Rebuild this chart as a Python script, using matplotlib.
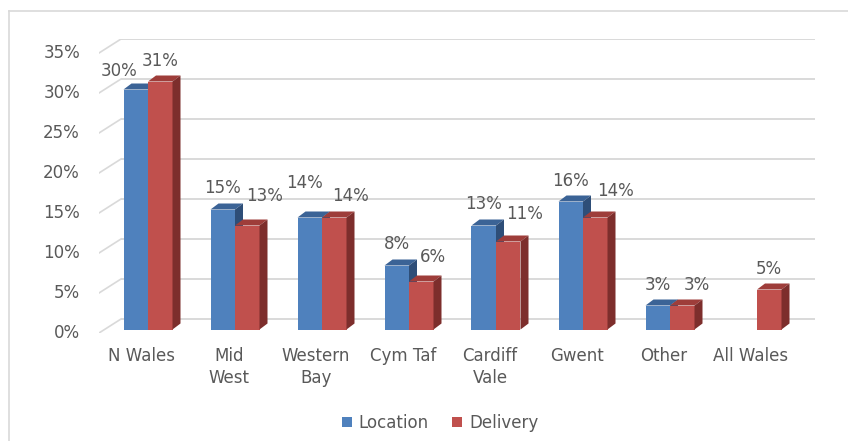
import numpy as np
import matplotlib
matplotlib.use("Agg")
import matplotlib.pyplot as plt
from matplotlib.patches import Polygon, Patch
from matplotlib.lines import Line2D

plt.rcParams["font.family"] = ["DejaVu Sans"]

# ---------------- data ----------------
categories = ["N Wales", "Mid\nWest", "Western\nBay", "Cym Taf", "Cardiff\nVale", "Gwent", "Other", "All Wales"]
location = [30, 15, 14, 8, 13, 16, 3, np.nan]
delivery = [31, 13, 14, 6, 11, 14, 3, 5]
yticks = [0, 5, 10, 15, 20, 25, 30, 35]
series_names = ["Location", "Delivery"]

# ---------------- style ----------------
W, H, DPI = 848, 441, 100
TXT = "#595959"
GRID = "#D9D9D9"
FS = 12
BLUE = ("#4F81BD", "#3B6396", "#2E4E78")   # front, top, side
RED = ("#C0504D", "#9E3D3A", "#7D2E2C")
# label offsets (pixels) relative to bar front-top centre
loc_lbl_dx = [-17, 0, -5, 0, 0, 0, 0, 0]
loc_lbl_dy = [18, 21, 35, 21, 21, 20, 21, 21]
del_lbl_dx = [0, 17, 16, 12, 16, 20, 15, 0]
del_lbl_dy = [20, 29, 21, 25, 27, 26, 21, 21]

fig = plt.figure(figsize=(W / DPI, H / DPI), dpi=DPI)
fig.patch.set_facecolor("white")

# axes placement in pixels (from top-left)
ax_l, ax_r, ax_t, ax_b = 99, 815, 39, 333
ax = fig.add_axes([ax_l / W, 1 - ax_b / H, (ax_r - ax_l) / W, (ax_b - ax_t) / H])
PX_PER_UNIT_Y = 8.0
PX_PER_CAT = 87.0
base_px = 329.5
ymin = -(ax_b - base_px) / PX_PER_UNIT_Y
ymax = ymin + (ax_b - ax_t) / PX_PER_UNIT_Y
xmin = -(148 - ax_l) / PX_PER_CAT
xmax = xmin + (ax_r - ax_l) / PX_PER_CAT
ax.set_xlim(xmin, xmax)
ax.set_ylim(ymin, ymax)
ax.axis("off")

def dxp(p):
    return p / PX_PER_CAT

def dyp(p):
    return p / PX_PER_UNIT_Y

# back-wall gridlines with left-wall slants
back_dy = dyp(base_px - 319)
wall_dx = dxp(22)
front_dy = dyp(base_px - 333)
for v in yticks:
    ax.plot([xmin + wall_dx, xmax], [v + back_dy, v + back_dy], color=GRID, lw=1.4, zorder=1,
            solid_capstyle="butt")
    ax.plot([xmin, xmin + wall_dx], [v + front_dy, v + back_dy], color=GRID, lw=1.2, zorder=1)
    ax.annotate(f"{v}%", xy=(0, v), xycoords=("axes fraction", "data"),
                xytext=(-19, -4), textcoords="offset pixels", ha="right", va="center",
                fontsize=FS, color=TXT)

x = np.arange(len(categories))
bw = dxp(24.5)
ddx, ddy = dxp(8), dyp(6)

def bar3d(xc, h, cols):
    if np.isnan(h):
        return
    ax.bar(xc, h, width=bw, color=cols[0], edgecolor="none", zorder=3)
    xl, xr = xc - bw / 2, xc + bw / 2
    ax.add_patch(Polygon([(xl, h), (xr, h), (xr + ddx, h + ddy), (xl + ddx, h + ddy)],
                         closed=True, facecolor=cols[1], edgecolor="none", zorder=3))
    ax.add_patch(Polygon([(xr, 0), (xr + ddx, ddy), (xr + ddx, h + ddy), (xr, h)],
                         closed=True, facecolor=cols[2], edgecolor="none", zorder=3))

for i in range(len(categories)):
    bar3d(x[i] - bw / 2, location[i], BLUE)
    bar3d(x[i] + bw / 2, delivery[i], RED)

for i in range(len(categories)):
    if not np.isnan(location[i]):
        ax.annotate(f"{location[i]:.0f}%", xy=(x[i] - bw / 2, location[i]),
                    xytext=(loc_lbl_dx[i], loc_lbl_dy[i]), textcoords="offset pixels",
                    ha="center", va="center", fontsize=FS, color=TXT, zorder=5)
    ax.annotate(f"{delivery[i]:.0f}%", xy=(x[i] + bw / 2, delivery[i]),
                xytext=(del_lbl_dx[i], del_lbl_dy[i]), textcoords="offset pixels",
                ha="center", va="center", fontsize=FS, color=TXT, zorder=5)

for i, c in enumerate(categories):
    ax.annotate(c, xy=(x[i], 0), xytext=(-6, -17.5), textcoords="offset pixels",
                ha="center", va="top", fontsize=FS, color=TXT, linespacing=1.3,
                multialignment="center", annotation_clip=False)

handles = [Patch(facecolor=BLUE[0], edgecolor="none"), Patch(facecolor=RED[0], edgecolor="none")]
fig.legend(handles, series_names, loc="center", bbox_to_anchor=(440 / W, 1 - 423 / H),
           ncol=2, frameon=False, fontsize=FS, labelcolor=TXT, handlelength=0.6,
           handleheight=0.6, handletextpad=0.42, columnspacing=1.38)

# chart area border (top and left visible)
fig.add_artist(Line2D([9 / W, 1.0], [1 - 11 / H, 1 - 11 / H], color=GRID, lw=1.2,
                      transform=fig.transFigure))
fig.add_artist(Line2D([9 / W, 9 / W], [0, 1 - 11 / H], color=GRID, lw=1.2,
                      transform=fig.transFigure))

fig.savefig("out.png", dpi=DPI)
